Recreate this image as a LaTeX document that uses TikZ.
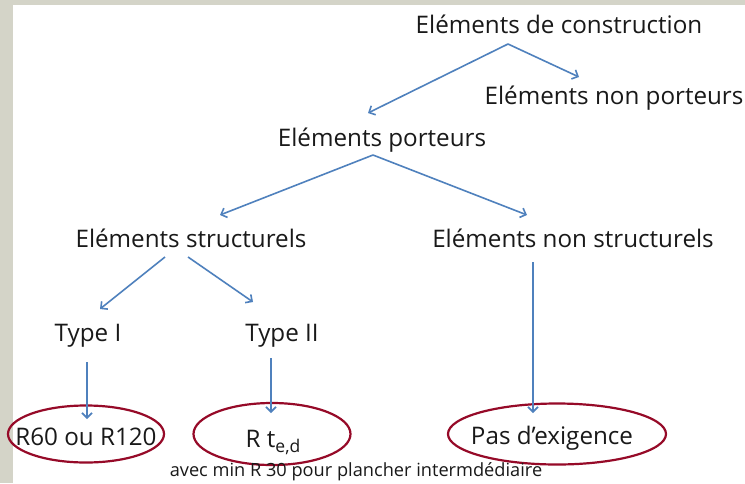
\documentclass[tikz,border=0pt]{standalone}
\usepackage{fontspec}
\setmainfont{Open Sans}
\usetikzlibrary{arrows.meta,shapes.geometric,calc}
\definecolor{framegray}{RGB}{212,212,200}
\definecolor{arrowblue}{RGB}{79,129,189}
\definecolor{ovalred}{RGB}{150,10,40}
\definecolor{txt}{RGB}{25,25,25}
\tikzset{
  lbl/.style={anchor=base, inner sep=0pt, text=txt, font=\fontsize{24.2}{26}\selectfont},
  note/.style={anchor=base, inner sep=0pt, text=txt, font=\fontsize{18.2}{20}\selectfont},
  arr/.style={draw=arrowblue, line width=1.6pt, -{Straight Barb[length=5pt,width=10pt]}},
  oval/.style={draw=ovalred, line width=2.2pt, ellipse, inner sep=0pt},
}
\begin{document}
\begin{tikzpicture}[x=1pt,y=-1pt]
\useasboundingbox (0,0) rectangle (745,483);
\fill[framegray] (0,0) rectangle (745,483);
\fill[white] (13,5) rectangle (745,483);
% ovals
\node[oval, minimum width=156pt, minimum height=57pt] (o1) at (86,434) {};
\node[oval, minimum width=157pt, minimum height=62pt] (o2) at (272,434) {};
\node[oval, minimum width=218pt, minimum height=61pt] (o3) at (557,434) {};
% labels
\node[lbl] (con) at (559,33) {Eléments de construction};
\node[lbl] (nonp) at (614,104) {Eléments non porteurs};
\node[lbl] (por) at (382,146) {Eléments porteurs};
\node[lbl] (str) at (191,247) {Eléments structurels};
\node[lbl] (nstr) at (573,247) {Eléments non structurels};
\node[lbl] (t1) at (88,341) {Type I};
\node[lbl] (t2) at (282,341) {Type II};
\node[lbl] (r60) at (86,445) {R60 ou R120};
\node[lbl] (rt) at (273,447) {R t\raisebox{-5pt}{\fontsize{17.5}{18}\selectfont e,d}};
\node[lbl] (pas) at (552,444) {Pas d’exigence};
\node[note] (avec) at (356,476) {avec min R 30 pour plancher intermdédiaire};
% arrows
\draw[arr] ($(con.base)+(-51,11)$) -- ($(por.base)+(-14,-33)$);
\draw[arr] ($(con.base)+(-51,11)$) -- ($(nonp.base)+(-35,-27)$);
\draw[arr] ($(por.base)+(-9,9)$) -- ($(str.base)+(29,-32)$);
\draw[arr] ($(por.base)+(-9,9)$) -- ($(nstr.base)+(-46,-32)$);
\draw[arr] ($(str.base)+(-26,10)$) -- ($(t1.base)+(12,-32)$);
\draw[arr] ($(str.base)+(-3,10)$) -- ($(t2.base)+(-29,-39)$);
\draw[arr] ($(t1.base)+(-1,21)$) -- ($(r60.base)+(1,-26)$);
\draw[arr] ($(t2.base)+(-11,17)$) -- ($(rt.base)+(-2,-34)$);
\draw[arr] ($(nstr.base)+(-40,15)$) -- ($(pas.base)+(-19,-31)$);
\end{tikzpicture}
\end{document}
